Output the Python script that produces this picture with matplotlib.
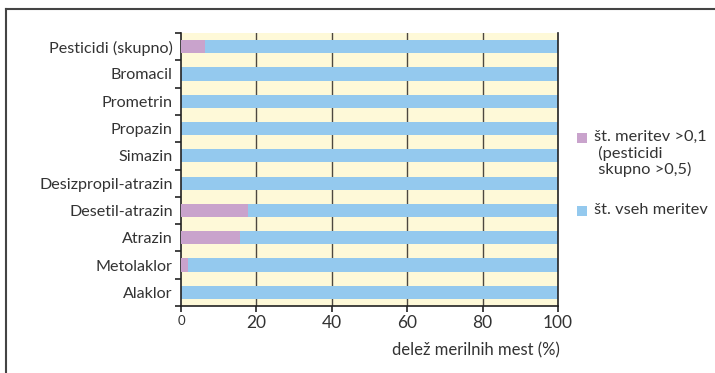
import matplotlib
matplotlib.use("Agg")
import matplotlib.pyplot as plt
from matplotlib.lines import Line2D
from matplotlib.patches import Rectangle

# Data
categories = ["Pesticidi (skupno)", "Bromacil", "Prometrin", "Propazin", "Simazin",
              "Desizpropil-atrazin", "Desetil-atrazin", "Atrazin", "Metolaklor", "Alaklor"]
share_exceeding = [6.4, 0, 0, 0, 0, 0, 17.7, 15.6, 1.8, 0]   # % of sites with values >0,1
share_all = [100, 100, 100, 100, 100, 100, 100, 100, 100, 100]  # % of sites measured
xticks = [0, 20, 40, 60, 80, 100]
legend_labels = ["št. meritev >0,1\n (pesticidi\n skupno >0,5)", "št. vseh meritev"]

BLUE = "#94c9ee"
PINK = "#c9a3cc"
BG = "#fef9d8"
TXT = "#333333"

plt.rcParams["font.family"] = ["Lato", "DejaVu Sans"]

fig = plt.figure(figsize=(7.15, 3.73), dpi=100)
W, H = 715, 373
ax = fig.add_axes([181 / W, 1 - 306 / H, (558 - 181) / W, (306 - 33) / H])
ax.set_facecolor(BG)

y = list(range(len(categories)))
ax.barh(y, share_all, height=0.48, color=BLUE, zorder=2)
ax.barh(y, share_exceeding, height=0.48, color=PINK, zorder=3)

ax.set_xlim(0, 100)
ax.set_ylim(len(categories) - 0.5, -0.5)

# vertical grid lines
for v in xticks[1:-1]:
    ax.axvline(v, color="#4d4840", lw=1.0, zorder=1)

# y axis: boundary ticks, labels centred on the bars
ax.set_yticks([i - 0.5 for i in range(len(categories) + 1)])
ax.set_yticklabels([])
ax.set_yticks(y, minor=True)
ax.set_yticklabels(categories, minor=True, fontsize=11.6, color=TXT)
ax.tick_params(axis="y", which="major", direction="out", length=4, width=1.2, color="#222222")
ax.tick_params(axis="y", which="minor", length=0, pad=6)

ax.set_xticks(xticks)
ax.set_xticklabels([str(t) for t in xticks], fontsize=12.5, color=TXT)
ax.get_xticklabels()[0].set_fontsize(9.5)
ax.tick_params(axis="x", direction="out", length=4, width=1.2, color="#222222", pad=2.5)

ax.spines["top"].set_visible(False)
for side in ["left", "right", "bottom"]:
    ax.spines[side].set_color("#222222")
    ax.spines[side].set_linewidth(1.2)

ax.text(1.005, -0.162, "delež merilnih mest (%)", transform=ax.transAxes,
        ha="right", va="center", fontsize=12, color=TXT)

# legend
for (cy, col, lab) in [(138, PINK, legend_labels[0]), (211, BLUE, legend_labels[1])]:
    fig.add_artist(Rectangle(((577) / W, 1 - (cy + 5) / H), 10 / W, 10 / H,
                             transform=fig.transFigure, color=col, lw=0))
    fig.text(594 / W, 1 - (cy - 8) / H, lab, ha="left", va="top",
             fontsize=11.8, color=TXT, linespacing=1.12)

# outer frame (left and top edges)
fig.add_artist(Line2D([6 / W, 6 / W], [0, 1 - 9 / H], transform=fig.transFigure,
                      color="#444444", lw=1.5))
fig.add_artist(Line2D([6 / W, 1], [1 - 9 / H, 1 - 9 / H], transform=fig.transFigure,
                      color="#444444", lw=1.5))

fig.savefig("out.png", dpi=100)
